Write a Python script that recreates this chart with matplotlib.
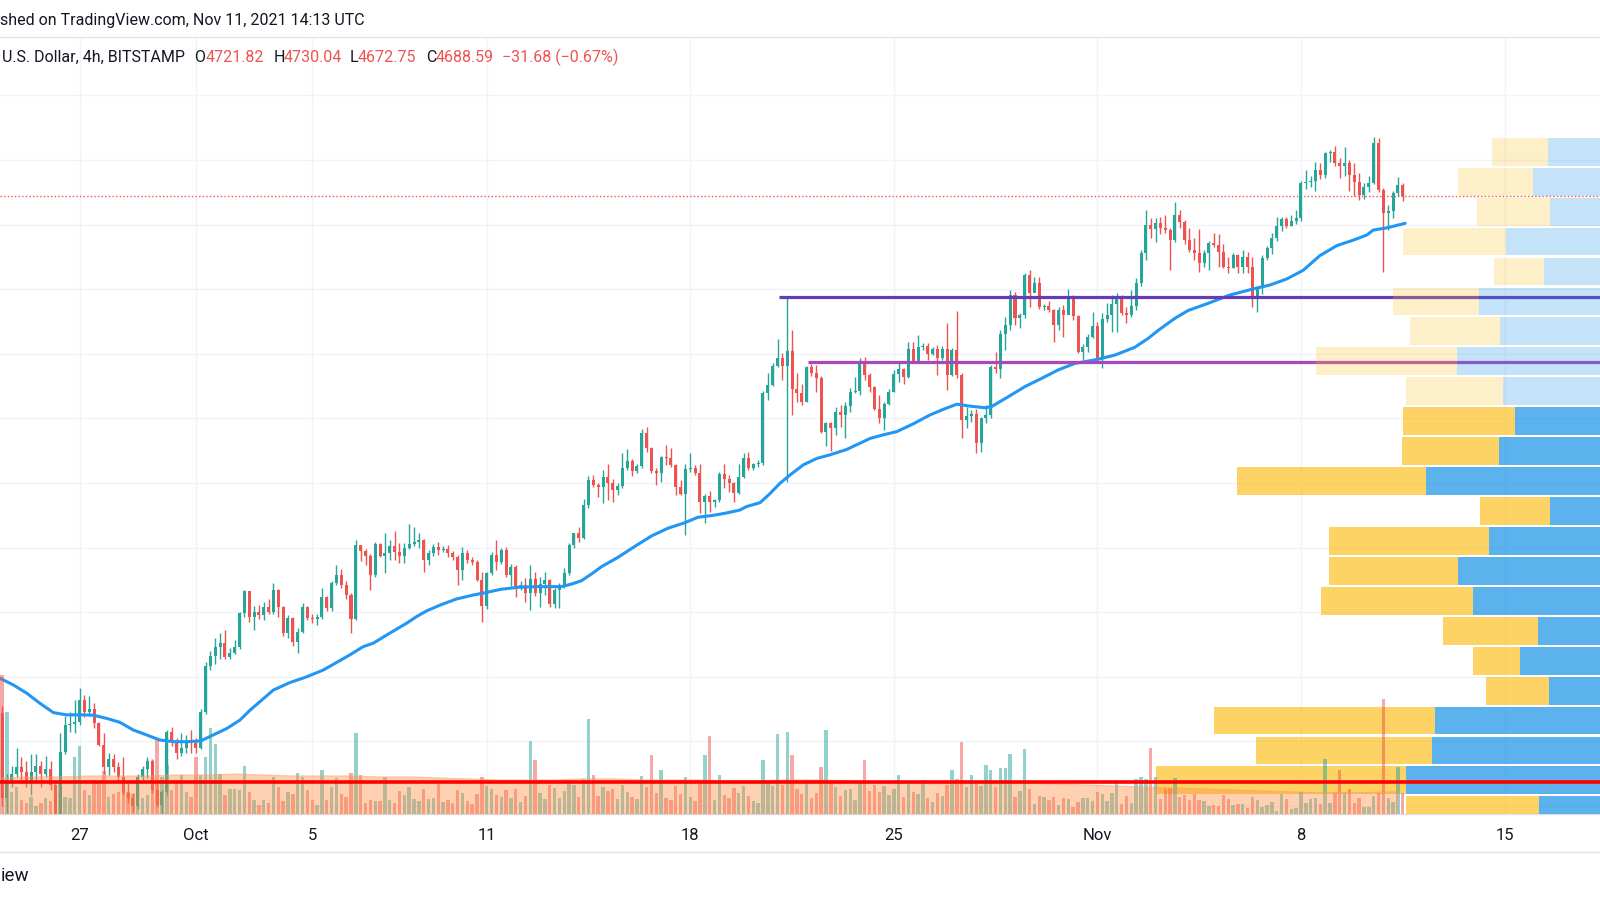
"""
ETH/USD 4h chart (Bitstamp) in TradingView style: candles, 50-period MA,
volume with its average, two resistance levels and a volume profile.
"""
import numpy as np
import matplotlib
matplotlib.use("Agg")
import matplotlib.pyplot as plt
from matplotlib.lines import Line2D

plt.rcParams["font.family"] = ["Roboto", "DejaVu Sans"]

UP = "#26A69A"
DOWN = "#EF5350"
TEXT = "#131722"
GRID = "#F0F3FA"
BORDER = "#E0E3EB"
MA_BLUE = "#2196F3"
VP_UP = "#1592E6"
VP_DOWN = "#FBC123"

# ---- Data: one 4h candle per item, from Sep 24 08:00 to Nov 11 12:00 ----
first_open = 3087.0

closes = [
    2824, 2875, 2900, 2920, 2905, 2880, 2905, 2925, 2900, 2915,
    2865, 2760, 2968, 3050, 3055, 3060, 3128, 3090, 3100, 3056,
    2990, 2922, 2946, 2920, 2890, 2840, 2826, 2800, 2891, 2915,
    2940, 2850, 2803, 2844, 3030, 3000, 2963, 2980, 3000, 2995,
    2980, 3092, 3233, 3265, 3293, 3305, 3262, 3275, 3293, 3396,
    3464, 3386, 3401, 3392, 3417, 3401, 3469, 3415, 3334, 3381,
    3309, 3340, 3417, 3381, 3380, 3384, 3446, 3412, 3489, 3515,
    3484, 3453, 3378, 3608, 3590, 3574, 3515, 3611, 3574, 3582,
    3605, 3587, 3574, 3598, 3610, 3618, 3622, 3562, 3582, 3603,
    3592, 3597, 3582, 3572, 3531, 3582, 3562, 3556, 3500, 3419,
    3520, 3577, 3556, 3593, 3515, 3541, 3479, 3484, 3458, 3502,
    3458, 3487, 3500, 3424, 3469, 3484, 3520, 3608, 3646, 3629,
    3732, 3809, 3794, 3789, 3819, 3801, 3778, 3791, 3845, 3869,
    3838, 3853, 3954, 3907, 3838, 3830, 3879, 3876, 3856, 3789,
    3766, 3842, 3845, 3830, 3742, 3760, 3742, 3747, 3827, 3811,
    3799, 3768, 3820, 3877, 3845, 3858, 3862, 4080, 4103, 4162,
    4186, 4162, 4209, 4090, 4080, 4052, 4158, 4140, 4124, 3959,
    3985, 3969, 4021, 4010, 4038, 4083, 4085, 4173, 4134, 4096,
    4028, 4000, 4045, 4083, 4137, 4152, 4129, 4215, 4179, 4222,
    4225, 4199, 4215, 4186, 4215, 4134, 4211, 4134, 3995, 4007,
    4015, 3923, 4000, 4010, 4158, 4154, 4261, 4289, 4382, 4310,
    4320, 4444, 4387, 4418, 4346, 4348, 4336, 4289, 4336, 4320,
    4372, 4317, 4207, 4222, 4251, 4286, 4186, 4307, 4320, 4354,
    4369, 4325, 4320, 4348, 4418, 4511, 4598, 4585, 4605, 4590,
    4583, 4552, 4630, 4609, 4552, 4521, 4511, 4480, 4511, 4542,
    4537, 4516, 4470, 4465, 4506, 4470, 4501, 4470, 4377, 4403,
    4496, 4527, 4558, 4596, 4616, 4596, 4612, 4619, 4728, 4733,
    4735, 4769, 4754, 4821, 4825, 4790, 4780, 4792, 4754, 4733,
    4692, 4718, 4730, 4852, 4707, 4635, 4643, 4697, 4721.82, 4688.59,
]

highs = [
    3110, 2900, 2925, 2980, 2950, 2940, 2960, 2960, 2940, 2955,
    2940, 2875, 3027, 3080, 3090, 3128, 3164, 3145, 3140, 3120,
    3060, 3025, 2965, 2960, 2935, 2950, 2870, 2840, 2900, 2925,
    2950, 2945, 2880, 2850, 3035, 3045, 3010, 3025, 3020, 3035,
    3010, 3100, 3245, 3280, 3320, 3335, 3345, 3290, 3315, 3402,
    3470, 3466, 3418, 3423, 3433, 3442, 3490, 3472, 3420, 3390,
    3385, 3350, 3428, 3420, 3395, 3395, 3474, 3450, 3495, 3546,
    3535, 3495, 3460, 3623, 3608, 3595, 3580, 3618, 3614, 3644,
    3623, 3652, 3613, 3615, 3673, 3665, 3646, 3625, 3592, 3612,
    3618, 3605, 3607, 3590, 3577, 3603, 3592, 3570, 3562, 3525,
    3525, 3587, 3623, 3598, 3603, 3550, 3545, 3495, 3505, 3546,
    3525, 3510, 3525, 3502, 3475, 3490, 3536, 3613, 3646, 3665,
    3750, 3822, 3825, 3800, 3840, 3858, 3812, 3800, 3892, 3904,
    3875, 3860, 3966, 3974, 3910, 3845, 3885, 3918, 3907, 3860,
    3810, 3860, 3892, 3857, 3860, 3765, 3776, 3750, 3835, 3860,
    3825, 3804, 3860, 3892, 3897, 3862, 3870, 4085, 4140, 4170,
    4245, 4202, 4377, 4274, 4140, 4108, 4162, 4168, 4165, 4130,
    3990, 3990, 4036, 4041, 4050, 4095, 4127, 4186, 4189, 4140,
    4100, 4073, 4050, 4090, 4150, 4178, 4155, 4238, 4238, 4258,
    4232, 4232, 4222, 4228, 4225, 4296, 4218, 4333, 4140, 4036,
    4025, 4030, 4005, 4040, 4165, 4207, 4273, 4315, 4397, 4392,
    4325, 4450, 4460, 4439, 4439, 4355, 4362, 4340, 4345, 4350,
    4400, 4382, 4320, 4230, 4260, 4330, 4300, 4325, 4356, 4382,
    4387, 4382, 4345, 4397, 4434, 4520, 4645, 4620, 4620, 4625,
    4630, 4590, 4671, 4645, 4615, 4590, 4560, 4588, 4520, 4548,
    4575, 4570, 4540, 4500, 4513, 4510, 4522, 4515, 4500, 4410,
    4505, 4534, 4573, 4625, 4625, 4625, 4630, 4645, 4735, 4768,
    4750, 4795, 4790, 4826, 4830, 4845, 4805, 4840, 4800, 4790,
    4760, 4730, 4750, 4872, 4868, 4712, 4660, 4705, 4748, 4730.04,
]

lows = [
    2800, 2778, 2860, 2890, 2880, 2860, 2834, 2870, 2860, 2890,
    2850, 2740, 2755, 2960, 3030, 3025, 3050, 3075, 3080, 3040,
    2985, 2900, 2895, 2905, 2875, 2835, 2810, 2780, 2790, 2880,
    2885, 2840, 2798, 2775, 2835, 2985, 2945, 2955, 2965, 2965,
    2965, 2975, 3085, 3220, 3240, 3255, 3255, 3255, 3270, 3285,
    3385, 3370, 3345, 3380, 3375, 3395, 3395, 3385, 3325, 3320,
    3295, 3272, 3335, 3375, 3365, 3360, 3380, 3405, 3405, 3485,
    3474, 3440, 3335, 3375, 3557, 3546, 3469, 3510, 3570, 3520,
    3562, 3562, 3552, 3552, 3595, 3605, 3598, 3525, 3546, 3575,
    3577, 3585, 3572, 3560, 3484, 3500, 3551, 3545, 3495, 3371,
    3410, 3515, 3530, 3550, 3510, 3480, 3448, 3470, 3432, 3407,
    3450, 3417, 3453, 3417, 3412, 3412, 3475, 3515, 3600, 3618,
    3625, 3722, 3788, 3758, 3737, 3747, 3742, 3763, 3785, 3840,
    3822, 3830, 3845, 3895, 3830, 3794, 3804, 3855, 3850, 3763,
    3762, 3639, 3835, 3825, 3706, 3675, 3711, 3727, 3740, 3783,
    3773, 3742, 3765, 3815, 3840, 3840, 3850, 3855, 4057, 4100,
    4160, 4120, 3804, 4010, 4050, 4040, 4052, 4130, 4083, 3955,
    3913, 3900, 3948, 3974, 3938, 4020, 4078, 4072, 4120, 4083,
    4026, 3985, 3964, 4040, 4083, 4113, 4108, 4125, 4170, 4175,
    4212, 4180, 4195, 4135, 4180, 4088, 4130, 4125, 3938, 3970,
    3990, 3892, 3897, 3985, 4000, 4140, 4125, 4212, 4274, 4289,
    4280, 4310, 4346, 4392, 4340, 4335, 4330, 4238, 4274, 4251,
    4325, 4305, 4201, 4180, 4207, 4248, 4180, 4155, 4300, 4268,
    4268, 4320, 4294, 4315, 4335, 4410, 4490, 4560, 4545, 4570,
    4575, 4460, 4545, 4589, 4540, 4515, 4490, 4454, 4470, 4460,
    4530, 4470, 4465, 4450, 4465, 4450, 4450, 4450, 4345, 4330,
    4385, 4490, 4510, 4550, 4580, 4590, 4595, 4603, 4610, 4710,
    4715, 4705, 4740, 4745, 4795, 4782, 4743, 4750, 4705, 4690,
    4675, 4680, 4700, 4725, 4700, 4454, 4583, 4620, 4690, 4672.75,
]

# volume, thousand ETH per candle
volumes = [
    14.3, 10.5, 2.3, 2.8, 1.4, 1.1, 1.8, 0.8, 1.1, 1.6,
    1.3, 2.8, 3.5, 1.8, 1.6, 5.9, 7.0, 2.5, 2.0, 3.5,
    3.2, 4.4, 1.8, 2.1, 2.3, 3.8, 2.3, 2.1, 3.2, 1.6,
    2.0, 3.8, 7.6, 3.8, 5.0, 2.5, 3.5, 4.0, 2.3, 1.8,
    5.9, 4.0, 5.9, 8.9, 7.2, 4.1, 2.0, 2.6, 2.6, 2.5,
    4.9, 2.3, 1.4, 0.9, 1.4, 1.1, 3.8, 2.8, 1.3, 2.3,
    2.1, 4.2, 3.8, 2.5, 1.4, 0.9, 4.5, 1.4, 2.8, 3.7,
    2.1, 1.8, 4.2, 8.3, 4.0, 1.1, 1.4, 1.3, 1.3, 3.8,
    1.4, 1.1, 2.4, 2.0, 2.8, 1.5, 1.3, 2.6, 1.5, 1.6,
    3.1, 1.2, 1.4, 1.1, 2.5, 2.2, 1.3, 1.0, 2.1, 3.8,
    2.9, 2.6, 2.0, 1.7, 2.5, 1.6, 2.6, 1.2, 1.9, 7.5,
    5.6, 2.2, 1.5, 3.0, 2.7, 1.6, 2.4, 3.5, 3.0, 1.8,
    3.6, 9.8, 4.0, 1.9, 2.8, 2.4, 2.6, 1.5, 3.0, 2.3,
    1.8, 1.5, 3.9, 2.8, 6.1, 2.2, 4.5, 1.6, 1.4, 2.9,
    2.1, 3.8, 1.8, 1.3, 3.2, 6.1, 8.0, 1.4, 4.0, 2.0,
    1.6, 2.7, 2.2, 2.9, 1.9, 1.3, 1.1, 5.6, 3.4, 2.9,
    8.2, 3.0, 8.4, 6.1, 2.6, 2.1, 3.5, 1.6, 2.2, 4.8,
    8.7, 3.2, 2.8, 1.9, 2.5, 2.6, 1.4, 3.3, 5.6, 2.4,
    3.0, 2.3, 2.9, 2.0, 2.6, 4.0, 1.7, 3.2, 2.3, 2.1,
    3.5, 1.6, 1.2, 2.2, 1.9, 3.0, 4.5, 3.6, 7.4, 2.8,
    4.0, 3.3, 2.9, 5.0, 4.5, 2.8, 4.7, 4.7, 6.2, 1.7,
    2.4, 6.7, 2.6, 1.0, 1.9, 1.8, 1.4, 1.7, 0.9, 1.6,
    1.5, 0.7, 1.2, 1.6, 1.6, 1.3, 2.3, 2.1, 1.3, 2.2,
    3.3, 1.0, 1.9, 1.1, 3.6, 3.8, 3.6, 6.8, 3.8, 1.5,
    2.6, 2.7, 3.7, 1.7, 2.0, 1.4, 2.1, 1.4, 1.3, 0.8,
    0.9, 0.8, 2.0, 1.5, 0.9, 1.0, 1.0, 0.6, 1.7, 1.4,
    0.7, 0.9, 1.2, 0.3, 2.1, 1.5, 0.5, 0.6, 2.3, 1.1,
    1.5, 1.6, 1.0, 5.7, 1.1, 2.2, 4.5, 2.2, 2.6, 1.1,
    1.6, 0.7, 0.7, 1.9, 2.2, 11.8, 1.6, 1.2, 4.8, 2.2,
]

# moving average of price at these candle positions
ma_idx = [
    -0.4, 2.3, 5.1, 7.8, 10.6, 13.3, 16.1, 18.8, 21.6, 24.3,
    27.1, 29.8, 32.6, 35.4, 38.1, 40.9, 42.2, 43.6, 46.4, 49.1,
    51.2, 56.0, 59.4, 62.9, 66.3, 69.7, 71.8, 74.5, 76.6, 80.0,
    83.5, 85.5, 87.6, 90.4, 93.8, 97.2, 99.6, 103.0, 106.5, 109.9,
    113.4, 115.4, 117.5, 119.5, 121.6, 123.7, 127.1, 130.5, 134.0, 137.4,
    140.9, 143.6, 146.4, 149.1, 152.2, 153.6, 156.4, 158.5, 160.5, 162.6,
    165.3, 168.1, 170.8, 174.3, 177.7, 179.1, 181.8, 184.6, 188.0, 191.5,
    194.2, 197.0, 199.7, 202.8, 204.1, 207.6, 211.0, 214.5, 217.9, 221.3,
    226.1, 229.6, 233.7, 236.5, 238.5, 242.0, 244.7, 248.8, 253.3, 258.2,
    261.6, 265.1, 268.5, 271.9, 275.4, 278.8, 281.6, 282.9, 285.7, 289.5,
]
ma_vals = [
    3195, 3175, 3149, 3118, 3089, 3082, 3082, 3081, 3071, 3059,
    3035, 3020, 3004, 2999, 2999, 3001, 3010, 3020, 3040, 3066,
    3097, 3159, 3182, 3200, 3221, 3250, 3268, 3293, 3304, 3335,
    3366, 3386, 3404, 3422, 3441, 3453, 3460, 3471, 3477, 3479,
    3479, 3479, 3487, 3497, 3518, 3541, 3570, 3603, 3636, 3660,
    3677, 3694, 3699, 3706, 3716, 3727, 3739, 3768, 3799, 3825,
    3856, 3876, 3887, 3904, 3928, 3938, 3949, 3959, 3983, 4011,
    4028, 4044, 4038, 4033, 4036, 4067, 4098, 4124, 4150, 4170,
    4183, 4196, 4220, 4248, 4272, 4310, 4334, 4356, 4382, 4401,
    4413, 4432, 4459, 4504, 4535, 4552, 4568, 4583, 4590, 4604,
]

# volume average, one value per day (every 6th candle)
vol_ma_idx = list(range(0, 290, 6))
vol_ma = [3.7, 3.8, 3.8, 3.9, 3.9, 3.9, 4.0, 4.0, 4.1, 4.0,
          3.9, 3.9, 3.9, 3.8, 3.8, 3.7, 3.6, 3.5, 3.5, 3.5,
          3.6, 3.6, 3.5, 3.5, 3.5, 3.4, 3.4, 3.5, 3.5, 3.4,
          3.3, 3.2, 3.1, 3.2, 3.2, 3.2, 3.1, 3.0, 2.9, 2.8,
          2.7, 2.6, 2.5, 2.4, 2.3, 2.2, 2.2, 2.2, 2.3]
vol_level = 3.3

# drawn resistance levels
level_prices = [4376, 4175]
level_starts = [160.4, 166.3]
level_colors = ["#673AB7", "#AB47BC"]

# volume profile rows, top (high) to bottom (low)
vp_up = [5.2, 6.7, 5.0, 9.4, 5.6, 12.1, 10.0, 14.3, 9.7, 8.5, 10.1, 17.4,
         5.0, 11.1, 14.2, 12.7, 6.2, 8.0, 5.1, 16.5, 16.8, 19.4, 6.1]
vp_down = [5.6, 7.5, 7.3, 10.3, 5.0, 8.6, 9.0, 14.1, 9.7, 11.2, 9.7, 18.9,
           7.0, 16.0, 12.9, 15.2, 9.5, 4.7, 6.3, 22.1, 17.6, 25.0, 13.3]
vp_value_area = [False] * 9 + [True] * 14

# time axis
tick_idx = [16, 40, 64, 100, 142, 184, 226, 268, 310]
tick_labels = ["27", "Oct", "5", "11", "18", "25", "Nov", "8", "15"]

assert len(closes) == len(highs) == len(lows) == len(volumes) == 290
assert len(ma_idx) == len(ma_vals) and len(vol_ma_idx) == len(vol_ma)

# ---- Figure ----
W, H = 1600, 900
PANE_TOP, PANE_BOTTOM = 37, 814
XLIM = (-0.42, 329.7)
YLIM = (2775, 5181)

fig = plt.figure(figsize=(16, 9), dpi=100, facecolor="white")
rect = [0, 1 - PANE_BOTTOM / H, 1, (PANE_BOTTOM - PANE_TOP) / H]
ax = fig.add_axes(rect, zorder=1)
ax_vp = fig.add_axes(rect, zorder=2)
ax_vol = fig.add_axes(rect, zorder=3)

c = np.array(closes, dtype=float)
o = np.r_[first_open, c[:-1]]
x = np.arange(len(c))
colors = np.where(c >= o, UP, DOWN)

# price pane
ax.set_xlim(*XLIM)
ax.set_ylim(*YLIM)
for p in range(2800, 5001, 200):
    ax.axhline(p, color=GRID, lw=1, zorder=0)
for t in tick_idx:
    ax.axvline(t, color=GRID, lw=1, zorder=0)

ax.vlines(x, lows, highs, colors=colors, lw=1.0, zorder=3)
ax.bar(x, np.maximum(np.abs(c - o), 3), bottom=np.minimum(o, c),
       width=0.62, color=colors, lw=0, zorder=4)
ax.plot(ma_idx, ma_vals, color=MA_BLUE, lw=2.2, zorder=5,
        solid_capstyle="round", solid_joinstyle="round")
for price, start, col in zip(level_prices, level_starts, level_colors):
    ax.hlines(price, start, XLIM[1], colors=col, lw=2.3, zorder=6)
ax.axhline(closes[-1], color=DOWN, lw=1, ls=(0, (1, 1.6)), zorder=2)

ax.set_xticks(tick_idx, tick_labels)
ax.tick_params(axis="x", length=0, pad=10, labelsize=12, labelcolor=TEXT)
ax.tick_params(axis="y", left=False, labelleft=False)
for side in ("left", "right"):
    ax.spines[side].set_visible(False)
for side in ("top", "bottom"):
    ax.spines[side].set_color(BORDER)
    ax.spines[side].set_linewidth(1)

# volume profile
edges = np.linspace(max(highs), min(lows), len(vp_up) + 1)
step = edges[0] - edges[1]
centers = (edges[:-1] + edges[1:]) / 2
ax_vp.set_xlim(160, 0)
ax_vp.set_ylim(*YLIM)
for ctr, u, d, va in zip(centers, vp_up, vp_down, vp_value_area):
    a = 0.7 if va else 0.25
    ax_vp.barh(ctr, u, height=step * 0.93, left=0, color=VP_UP, alpha=a, lw=0)
    ax_vp.barh(ctr, d, height=step * 0.93, left=u, color=VP_DOWN, alpha=a, lw=0)
ax_vp.axis("off")

# volume
ax_vol.set_xlim(*XLIM)
ax_vol.set_ylim(0, 80)
ax_vol.bar(x, volumes, width=0.7, color=colors, alpha=0.5, lw=0)
ax_vol.fill_between(vol_ma_idx, 0, vol_ma, color="#FF8C42", alpha=0.4, lw=0)
ax_vol.plot(vol_ma_idx, vol_ma, color="#FF9A5C", lw=1, alpha=0.6)
ax_vol.axhline(vol_level, color="#FF0000", lw=2.6)
ax_vol.axis("off")

# ---- Texts ----
def px_text(xp, yp, s, **kw):
    kw.setdefault("fontsize", 11.5)
    kw.setdefault("color", TEXT)
    kw.setdefault("va", "center")
    fig.text(xp / W, 1 - yp / H, s, **kw)

px_text(0, 20, "shed on TradingView.com, Nov 11, 2021 14:13 UTC")
px_text(2, 57, "U.S. Dollar, 4h, BITSTAMP")
px_text(194, 57, "O")
px_text(206, 57, "4721.82", color=DOWN)
px_text(274, 57, "H")
px_text(284, 57, "4730.04", color=DOWN)
px_text(350, 57, "L")
px_text(358, 57, "4672.75", color=DOWN)
px_text(426, 57, "C")
px_text(436, 57, "4688.59", color=DOWN)
px_text(502, 57, "\u221231.68 (\u22120.67%)", color=DOWN)
px_text(1, 876, "iew", fontsize=13.5)

fig.add_artist(Line2D([0, 1], [1 - 852 / H] * 2, color=BORDER, lw=1))

fig.savefig("out.png", dpi=100, facecolor="white")
plt.close(fig)
